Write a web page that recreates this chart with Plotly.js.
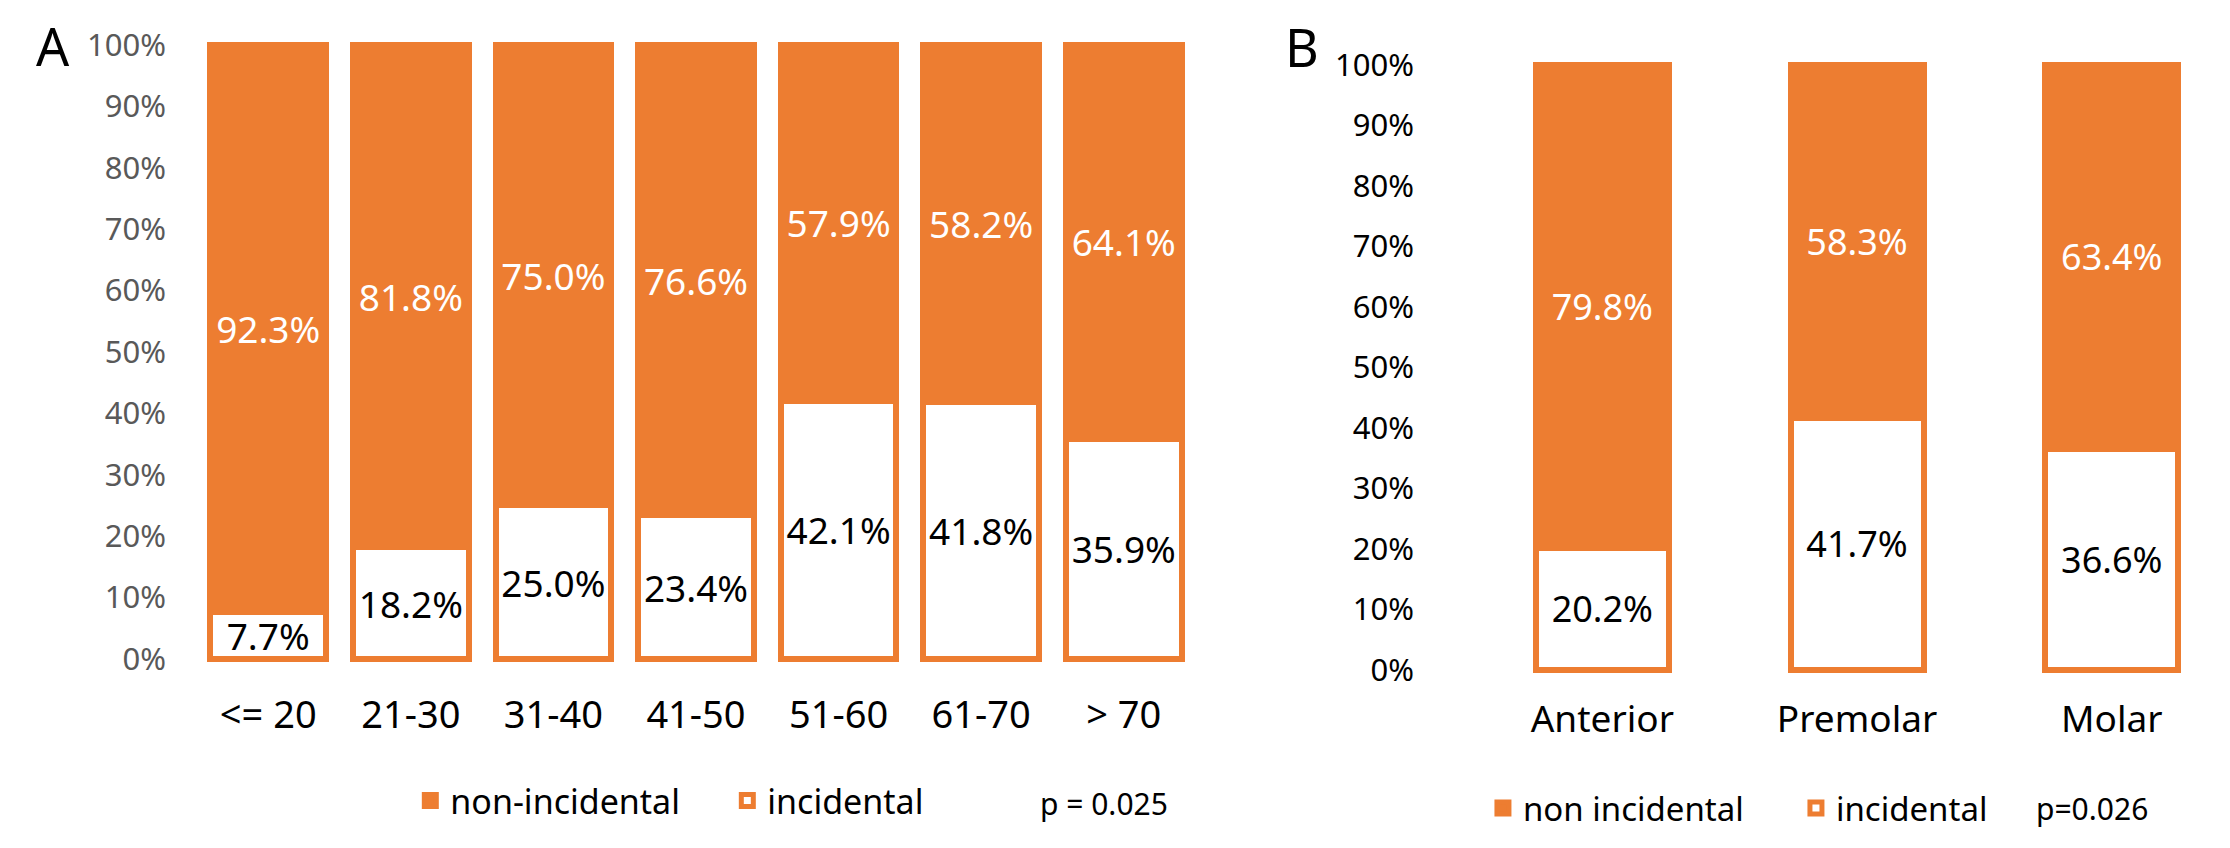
<!DOCTYPE html>
<html>
<head>
<meta charset="utf-8">
<script src="https://cdn.plot.ly/plotly-3.0.1.min.js"></script>
<style>
  html, body { margin: 0; padding: 0; background: #fff; }
  #myDiv { width: 2230px; height: 848px; }
</style>
</head>
<body>
<div id="myDiv"></div>
<script>
// panel A - age groups
const ageGroups = ['<= 20', '21-30', '31-40', '41-50', '51-60', '61-70', '> 70'];
const ageIncidental = [7.7, 18.2, 25.0, 23.4, 42.1, 41.8, 35.9];
const ageNonIncidental = [92.3, 81.8, 75.0, 76.6, 57.9, 58.2, 64.1];

// panel B - tooth type
const toothGroups = ['Anterior', 'Premolar', 'Molar'];
const toothIncidental = [20.2, 41.7, 36.6];
const toothNonIncidental = [79.8, 58.3, 63.4];

const orange = '#ED7D31';
const fontFam = '"Noto Sans", "Open Sans", Arial, sans-serif';

const config = {
    displayModeBar: false,
    staticPlot: true
};

var data = [
    {
        type: 'bar',
        name: 'incidental',
        x: ageGroups,
        y: ageIncidental,
        xaxis: 'x',
        yaxis: 'y',
        width: 0.81,
        legend: 'legend',
        marker: { color: '#FFFFFF', line: { color: orange, width: 6 } },
        texttemplate: '%{y:.1f}%',
        textposition: 'inside',
        insidetextanchor: 'middle',
        constraintext: 'none',
        textfont: { color: '#000000', size: 37, family: fontFam }
    },
    {
        type: 'bar',
        name: 'non-incidental',
        x: ageGroups,
        y: ageNonIncidental,
        xaxis: 'x',
        yaxis: 'y',
        width: 0.81,
        legend: 'legend',
        marker: { color: orange, line: { color: orange, width: 6 } },
        texttemplate: '%{y:.1f}%',
        textposition: 'inside',
        insidetextanchor: 'middle',
        constraintext: 'none',
        textfont: { color: '#FFFFFF', size: 37, family: fontFam }
    },
    {
        type: 'bar',
        name: 'incidental',
        x: toothGroups,
        y: toothIncidental,
        xaxis: 'x2',
        yaxis: 'y2',
        width: 0.522,
        legend: 'legend2',
        marker: { color: '#FFFFFF', line: { color: orange, width: 6 } },
        texttemplate: '%{y:.1f}%',
        textposition: 'inside',
        insidetextanchor: 'middle',
        constraintext: 'none',
        textfont: { color: '#000000', size: 36, family: fontFam }
    },
    {
        type: 'bar',
        name: 'non incidental',
        x: toothGroups,
        y: toothNonIncidental,
        xaxis: 'x2',
        yaxis: 'y2',
        width: 0.522,
        legend: 'legend2',
        marker: { color: orange, line: { color: orange, width: 6 } },
        texttemplate: '%{y:.1f}%',
        textposition: 'inside',
        insidetextanchor: 'middle',
        constraintext: 'none',
        textfont: { color: '#FFFFFF', size: 36, family: fontFam }
    }
];

var layout = {
    width: 2230,
    height: 848,
    margin: { l: 0, r: 0, t: 0, b: 0, pad: 0 },
    barmode: 'stack',
    paper_bgcolor: '#FFFFFF',
    plot_bgcolor: '#FFFFFF',
    font: { family: fontFam, size: 34, color: '#000000' },
    xaxis: {
        domain: [0.0883, 0.5359],
        showgrid: false,
        zeroline: false,
        showline: false,
        ticks: '',
        ticklabelstandoff: 27,
        tickfont: { size: 38, color: '#000000' }
    },
    yaxis: {
        domain: [0.2193, 0.9505],
        range: [-0.5, 100.5],
        dtick: 10,
        ticksuffix: '%',
        showgrid: false,
        zeroline: false,
        showline: false,
        ticks: '',
        ticklabelstandoff: 30,
        tickfont: { size: 31, color: '#595959' }
    },
    xaxis2: {
        domain: [0.6614, 1.0],
        range: [-0.5, 2.464],
        showgrid: false,
        zeroline: false,
        showline: false,
        ticks: '',
        ticklabelstandoff: 32,
        tickfont: { size: 37, color: '#000000' }
    },
    yaxis2: {
        domain: [0.2064, 0.9269],
        range: [-0.5, 100.5],
        anchor: 'x2',
        dtick: 10,
        ticksuffix: '%',
        showgrid: false,
        zeroline: false,
        showline: false,
        ticks: '',
        ticklabelstandoff: 60,
        tickfont: { size: 31, color: '#000000' }
    },
    legend: {
        orientation: 'h',
        traceorder: 'reversed',
        x: 0.184,
        xanchor: 'left',
        y: 0.0554,
        yanchor: 'middle',
        entrywidth: 272,
        font: { size: 34, color: '#000000' },
        bgcolor: 'rgba(0,0,0,0)'
    },
    legend2: {
        orientation: 'h',
        traceorder: 'reversed',
        x: 0.665,
        xanchor: 'left',
        y: 0.047,
        yanchor: 'middle',
        entrywidth: 268,
        font: { size: 33, color: '#000000' },
        bgcolor: 'rgba(0,0,0,0)'
    },
    annotations: [
        { text: 'A', xref: 'paper', yref: 'paper', x: 0.0238, y: 0.9458, showarrow: false,
          font: { size: 52, color: '#000000' }, xanchor: 'center', yanchor: 'middle' },
        { text: 'B', xref: 'paper', yref: 'paper', x: 0.5839, y: 0.9446, showarrow: false,
          font: { size: 52, color: '#000000' }, xanchor: 'center', yanchor: 'middle' },
        { text: 'p = 0.025', xref: 'paper', yref: 'paper', x: 0.495, y: 0.053, showarrow: false,
          font: { size: 30, color: '#000000' }, xanchor: 'center', yanchor: 'middle' },
        { text: 'p=0.026', xref: 'paper', yref: 'paper', x: 0.938, y: 0.047, showarrow: false,
          font: { size: 30, color: '#000000' }, xanchor: 'center', yanchor: 'middle' }
    ]
};

Plotly.newPlot('myDiv', data, layout, config);
</script>
</body>
</html>
